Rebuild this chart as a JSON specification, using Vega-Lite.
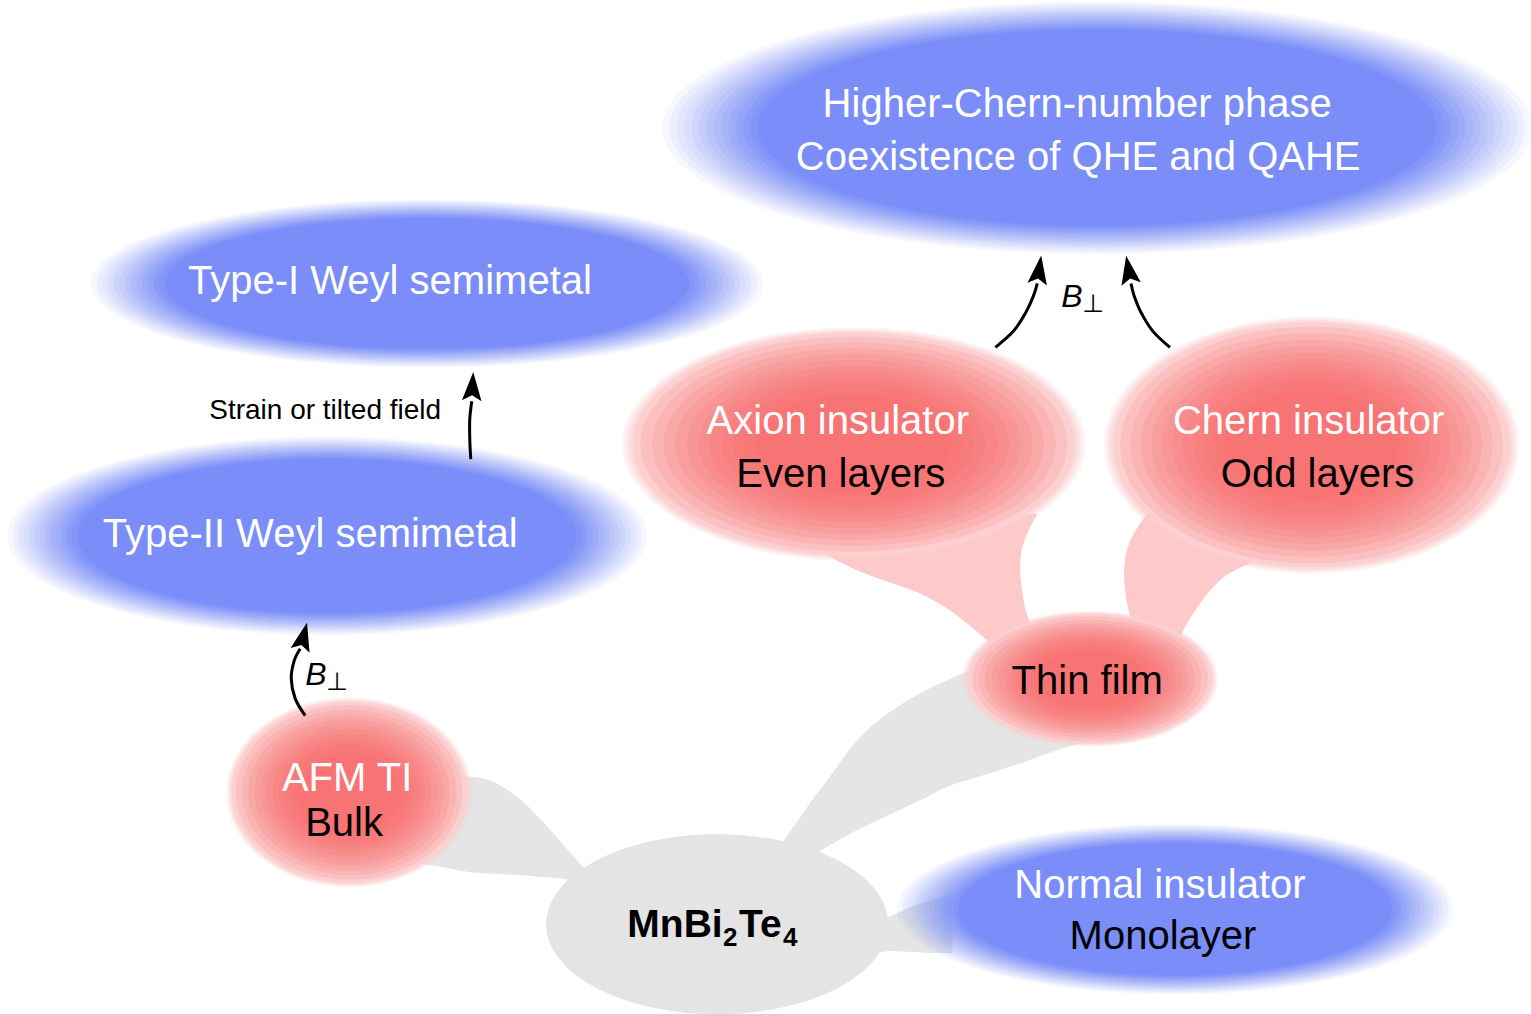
{
  "$schema": "https://vega.github.io/schema/vega-lite/v6.json",
  "width": 1531,
  "height": 1014,
  "padding": 0,
  "autosize": {"type": "fit", "contains": "padding"},
  "background": "white",
  "config": {"view": {"stroke": null}, "legend": {"disable": true}, "point": {"filled": true, "strokeWidth": 0}},
  "resolve": {"scale": {"size": "independent"}},
  "datasets": {
    "blueNodes": [
      {"node": "Higher-Chern", "cx": 1100, "cy": 128, "rx": 435},
      {"node": "Type-I", "cx": 428, "cy": 284, "rx": 336},
      {"node": "Type-II", "cx": 328, "cy": 537, "rx": 320},
      {"node": "Normal", "cx": 1178, "cy": 911, "rx": 278}
    ],
    "redNodes": [
      {"node": "Axion", "cx": 856, "cy": 445, "rx": 232},
      {"node": "Chern", "cx": 1315, "cy": 446, "rx": 208},
      {"node": "Thin film", "cx": 1093, "cy": 680, "rx": 128},
      {"node": "AFM TI", "cx": 350, "cy": 794, "rx": 123}
    ],
    "grayNodes": [
      {"node": "MnBi2Te4", "cx": 719, "cy": 926, "rx": 171}
    ],
    "grayLinks": [
      {"link": "A", "x": 425, "top": 795, "bottom": 866},
      {"link": "A", "x": 445, "top": 784, "bottom": 869},
      {"link": "A", "x": 465, "top": 778, "bottom": 873},
      {"link": "A", "x": 485, "top": 780, "bottom": 875},
      {"link": "A", "x": 505, "top": 789, "bottom": 876},
      {"link": "A", "x": 525, "top": 804, "bottom": 877},
      {"link": "A", "x": 545, "top": 824, "bottom": 879},
      {"link": "A", "x": 560, "top": 841, "bottom": 880},
      {"link": "A", "x": 575, "top": 858, "bottom": 882},
      {"link": "A", "x": 595, "top": 880, "bottom": 886},
      {"link": "B", "x": 780, "top": 852, "bottom": 853},
      {"link": "B", "x": 790, "top": 836, "bottom": 856},
      {"link": "B", "x": 800, "top": 822, "bottom": 857},
      {"link": "B", "x": 811, "top": 806, "bottom": 858},
      {"link": "B", "x": 830, "top": 781, "bottom": 848},
      {"link": "B", "x": 861, "top": 740, "bottom": 831},
      {"link": "B", "x": 890, "top": 715, "bottom": 817},
      {"link": "B", "x": 920, "top": 696, "bottom": 803},
      {"link": "B", "x": 953, "top": 680, "bottom": 787},
      {"link": "B", "x": 985, "top": 667, "bottom": 777},
      {"link": "B", "x": 1020, "top": 660, "bottom": 766},
      {"link": "B", "x": 1050, "top": 660, "bottom": 755},
      {"link": "B", "x": 1091, "top": 670, "bottom": 743},
      {"link": "B", "x": 1100, "top": 680, "bottom": 741},
      {"link": "C", "x": 878, "top": 925, "bottom": 955},
      {"link": "C", "x": 895, "top": 917, "bottom": 953},
      {"link": "C", "x": 915, "top": 908, "bottom": 954},
      {"link": "C", "x": 935, "top": 901, "bottom": 955},
      {"link": "C", "x": 955, "top": 896, "bottom": 955}
    ],
    "pinkLinks": [
      {"link": "D", "y": 515, "left": 790, "right": 1040},
      {"link": "D", "y": 530, "left": 800, "right": 1032},
      {"link": "D", "y": 545, "left": 815, "right": 1026},
      {"link": "D", "y": 562, "left": 840, "right": 1023},
      {"link": "D", "y": 575, "left": 868, "right": 1023},
      {"link": "D", "y": 593, "left": 918, "right": 1025},
      {"link": "D", "y": 610, "left": 950, "right": 1028},
      {"link": "D", "y": 625, "left": 970, "right": 1033},
      {"link": "D", "y": 640, "left": 988, "right": 1040},
      {"link": "D", "y": 655, "left": 1005, "right": 1050},
      {"link": "E", "y": 515, "left": 1150, "right": 1320},
      {"link": "E", "y": 540, "left": 1134, "right": 1300},
      {"link": "E", "y": 560, "left": 1128, "right": 1262},
      {"link": "E", "y": 575, "left": 1127, "right": 1232},
      {"link": "E", "y": 590, "left": 1128, "right": 1215},
      {"link": "E", "y": 605, "left": 1130, "right": 1203},
      {"link": "E", "y": 620, "left": 1134, "right": 1193},
      {"link": "E", "y": 635, "left": 1140, "right": 1185},
      {"link": "E", "y": 650, "left": 1150, "right": 1180}
    ],
    "arrows": [
      {"arrow": "afm", "ord": 0, "x": 306, "y": 717},
      {"arrow": "afm", "ord": 1, "x": 296, "y": 700},
      {"arrow": "afm", "ord": 2, "x": 292, "y": 680},
      {"arrow": "afm", "ord": 3, "x": 295, "y": 662},
      {"arrow": "afm", "ord": 4, "x": 301, "y": 650},
      {"arrow": "strain", "ord": 0, "x": 472, "y": 460},
      {"arrow": "strain", "ord": 1, "x": 471, "y": 440},
      {"arrow": "strain", "ord": 2, "x": 471, "y": 420},
      {"arrow": "strain", "ord": 3, "x": 473, "y": 402},
      {"arrow": "axion", "ord": 0, "x": 998, "y": 348},
      {"arrow": "axion", "ord": 1, "x": 1016, "y": 332},
      {"arrow": "axion", "ord": 2, "x": 1028, "y": 314},
      {"arrow": "axion", "ord": 3, "x": 1036, "y": 297},
      {"arrow": "axion", "ord": 4, "x": 1040, "y": 284},
      {"arrow": "chern", "ord": 0, "x": 1173, "y": 348},
      {"arrow": "chern", "ord": 1, "x": 1156, "y": 332},
      {"arrow": "chern", "ord": 2, "x": 1144, "y": 313},
      {"arrow": "chern", "ord": 3, "x": 1137, "y": 296},
      {"arrow": "chern", "ord": 4, "x": 1134, "y": 284}
    ],
    "heads": [
      {"arrow": "afm", "x": 301, "y": 651, "angle": 14},
      {"arrow": "strain", "x": 473, "y": 401, "angle": 3},
      {"arrow": "axion", "x": 1040, "y": 284, "angle": 8},
      {"arrow": "chern", "x": 1134, "y": 284, "angle": 350}
    ],
    "labels": [
      {"text": "Higher-Chern-number phase", "kind": "phase", "x": 1080, "y": 105},
      {"text": "Coexistence of QHE and QAHE", "kind": "phase", "x": 1081, "y": 158},
      {"text": "Type-I Weyl semimetal", "kind": "phase", "x": 391, "y": 283},
      {"text": "Type-II Weyl semimetal", "kind": "phase", "x": 311, "y": 536},
      {"text": "Axion insulator", "kind": "phase", "x": 840, "y": 423},
      {"text": "Chern insulator", "kind": "phase", "x": 1312, "y": 423},
      {"text": "AFM TI", "kind": "phase", "x": 348, "y": 781},
      {"text": "Normal insulator", "kind": "phase", "x": 1163, "y": 888},
      {"text": "Even layers", "kind": "sample", "x": 843, "y": 476},
      {"text": "Odd layers", "kind": "sample", "x": 1321, "y": 476},
      {"text": "Thin film", "kind": "sample", "x": 1090, "y": 683},
      {"text": "Bulk", "kind": "sample", "x": 345, "y": 826},
      {"text": "Monolayer", "kind": "sample", "x": 1166, "y": 939}
    ],
    "formulaMain": [
      {"text": "MnBi", "x": 629, "y": 927},
      {"text": "Te", "x": 741, "y": 927}
    ],
    "formulaSub": [
      {"text": "2", "x": 725, "y": 940},
      {"text": "4", "x": 785, "y": 940}
    ],
    "fieldB": [
      {"text": "B", "x": 1064, "y": 298},
      {"text": "B", "x": 306, "y": 676}
    ],
    "fieldPerp": [
      {"text": "⊥", "x": 1085, "y": 305},
      {"text": "⊥", "x": 327, "y": 683}
    ],
    "notes": [
      {"text": "Strain or tilted field", "x": 326, "y": 412}
    ]
  },
  "layer": [
    {
      "data": {"name": "grayLinks"},
      "mark": {"type": "area", "color": "#e5e5e5", "interpolate": "monotone", "opacity": 1},
      "encoding": {
        "x": {"field": "x", "type": "quantitative", "scale": {"domain": [0, 1531], "nice": false, "zero": false}, "axis": null},
        "y": {"field": "top", "type": "quantitative", "scale": {"domain": [0, 1014], "nice": false, "zero": false, "reverse": true}, "axis": null},
        "y2": {"field": "bottom"},
        "detail": {"field": "link"}
      }
    },
    {
      "data": {"name": "pinkLinks"},
      "mark": {"type": "area", "color": "#fdc9c9", "interpolate": "monotone", "orient": "horizontal", "opacity": 1},
      "encoding": {
        "y": {"field": "y", "type": "quantitative", "scale": {"domain": [0, 1014], "nice": false, "zero": false, "reverse": true}, "axis": null},
        "x": {"field": "left", "type": "quantitative", "scale": {"domain": [0, 1531], "nice": false, "zero": false}, "axis": null},
        "x2": {"field": "right"},
        "detail": {"field": "link"}
      }
    },
    {
      "data": {"name": "blueNodes"},
      "resolve": {"scale": {"size": "independent"}},
      "layer": [
        {"mark": {"type": "point", "color": "#7a8df8", "opacity": 0.0714}, "encoding": {"size": {"field": "rx", "type": "quantitative", "scale": {"type": "pow", "exponent": 2, "domain": [0, 500], "range": [0, 1000000]}}}},
        {"mark": {"type": "point", "color": "#7a8df8", "opacity": 0.0769}, "encoding": {"size": {"field": "rx", "type": "quantitative", "scale": {"type": "pow", "exponent": 2, "domain": [0, 500], "range": [0, 966486]}}}},
        {"mark": {"type": "point", "color": "#7a8df8", "opacity": 0.0833}, "encoding": {"size": {"field": "rx", "type": "quantitative", "scale": {"type": "pow", "exponent": 2, "domain": [0, 500], "range": [0, 933542]}}}},
        {"mark": {"type": "point", "color": "#7a8df8", "opacity": 0.0909}, "encoding": {"size": {"field": "rx", "type": "quantitative", "scale": {"type": "pow", "exponent": 2, "domain": [0, 500], "range": [0, 901001]}}}},
        {"mark": {"type": "point", "color": "#7a8df8", "opacity": 0.1}, "encoding": {"size": {"field": "rx", "type": "quantitative", "scale": {"type": "pow", "exponent": 2, "domain": [0, 500], "range": [0, 869183]}}}},
        {"mark": {"type": "point", "color": "#7a8df8", "opacity": 0.1111}, "encoding": {"size": {"field": "rx", "type": "quantitative", "scale": {"type": "pow", "exponent": 2, "domain": [0, 500], "range": [0, 837957]}}}},
        {"mark": {"type": "point", "color": "#7a8df8", "opacity": 0.125}, "encoding": {"size": {"field": "rx", "type": "quantitative", "scale": {"type": "pow", "exponent": 2, "domain": [0, 500], "range": [0, 807302]}}}},
        {"mark": {"type": "point", "color": "#7a8df8", "opacity": 0.1429}, "encoding": {"size": {"field": "rx", "type": "quantitative", "scale": {"type": "pow", "exponent": 2, "domain": [0, 500], "range": [0, 777042]}}}},
        {"mark": {"type": "point", "color": "#7a8df8", "opacity": 0.1667}, "encoding": {"size": {"field": "rx", "type": "quantitative", "scale": {"type": "pow", "exponent": 2, "domain": [0, 500], "range": [0, 747533]}}}},
        {"mark": {"type": "point", "color": "#7a8df8", "opacity": 0.2}, "encoding": {"size": {"field": "rx", "type": "quantitative", "scale": {"type": "pow", "exponent": 2, "domain": [0, 500], "range": [0, 718595]}}}},
        {"mark": {"type": "point", "color": "#7a8df8", "opacity": 0.25}, "encoding": {"size": {"field": "rx", "type": "quantitative", "scale": {"type": "pow", "exponent": 2, "domain": [0, 500], "range": [0, 690229]}}}},
        {"mark": {"type": "point", "color": "#7a8df8", "opacity": 0.3333}, "encoding": {"size": {"field": "rx", "type": "quantitative", "scale": {"type": "pow", "exponent": 2, "domain": [0, 500], "range": [0, 662270]}}}},
        {"mark": {"type": "point", "color": "#7a8df8", "opacity": 0.5}, "encoding": {"size": {"field": "rx", "type": "quantitative", "scale": {"type": "pow", "exponent": 2, "domain": [0, 500], "range": [0, 635050]}}}},
        {"mark": {"type": "point", "color": "#7a8df8", "opacity": 1}, "encoding": {"size": {"field": "rx", "type": "quantitative", "scale": {"type": "pow", "exponent": 2, "domain": [0, 500], "range": [0, 608400]}}}}
      ],
      "encoding": {
        "x": {"field": "cx", "type": "quantitative", "scale": {"domain": [0, 1531], "nice": false, "zero": false}, "axis": null},
        "y": {"field": "cy", "type": "quantitative", "scale": {"domain": [0, 1014], "nice": false, "zero": false, "reverse": true}, "axis": null},
        "shape": {"field": "node", "type": "nominal", "legend": null, "scale": {
          "domain": ["Higher-Chern", "Type-I", "Type-II", "Normal", "Axion", "Chern", "Thin film", "AFM TI", "MnBi2Te4"],
          "range": [
            "M-1,0C-1,-0.1602 -0.5523,-0.29 0,-0.29C0.5523,-0.29 1,-0.1602 1,0C1,0.1602 0.5523,0.29 0,0.29C-0.5523,0.29 -1,0.1602 -1,0Z",
            "M-1,0C-1,-0.1381 -0.5523,-0.25 0,-0.25C0.5523,-0.25 1,-0.1381 1,0C1,0.1381 0.5523,0.25 0,0.25C-0.5523,0.25 -1,0.1381 -1,0Z",
            "M-1,0C-1,-0.1712 -0.5523,-0.31 0,-0.31C0.5523,-0.31 1,-0.1712 1,0C1,0.1712 0.5523,0.31 0,0.31C-0.5523,0.31 -1,0.1712 -1,0Z",
            "M-1,0C-1,-0.169 -0.5523,-0.306 0,-0.306C0.5523,-0.306 1,-0.169 1,0C1,0.169 0.5523,0.306 0,0.306C-0.5523,0.306 -1,0.169 -1,0Z",
            "M-1,0C-1,-0.2784 -0.5523,-0.504 0,-0.504C0.5523,-0.504 1,-0.2784 1,0C1,0.2784 0.5523,0.504 0,0.504C-0.5523,0.504 -1,0.2784 -1,0Z",
            "M-1,0C-1,-0.3413 -0.5523,-0.618 0,-0.618C0.5523,-0.618 1,-0.3413 1,0C1,0.3413 0.5523,0.618 0,0.618C-0.5523,0.618 -1,0.3413 -1,0Z",
            "M-1,0C-1,-0.2927 -0.5523,-0.53 0,-0.53C0.5523,-0.53 1,-0.2927 1,0C1,0.2927 0.5523,0.53 0,0.53C-0.5523,0.53 -1,0.2927 -1,0Z",
            "M-1,0C-1,-0.4264 -0.5523,-0.772 0,-0.772C0.5523,-0.772 1,-0.4264 1,0C1,0.4264 0.5523,0.772 0,0.772C-0.5523,0.772 -1,0.4264 -1,0Z",
            "M-1,0C-1,-0.2905 -0.5523,-0.526 0,-0.526C0.5523,-0.526 1,-0.2905 1,0C1,0.2905 0.5523,0.526 0,0.526C-0.5523,0.526 -1,0.2905 -1,0Z"
          ]}}
      }
    },
    {
      "data": {"name": "redNodes"},
      "resolve": {"scale": {"size": "independent"}},
      "layer": [
        {"mark": {"type": "point", "color": "#fcd0d0", "opacity": 0.2}, "encoding": {"size": {"field": "rx", "type": "quantitative", "scale": {"type": "pow", "exponent": 2, "domain": [0, 500], "range": [0, 1000000]}}}},
        {"mark": {"type": "point", "color": "#fcd0d0", "opacity": 0.25}, "encoding": {"size": {"field": "rx", "type": "quantitative", "scale": {"type": "pow", "exponent": 2, "domain": [0, 500], "range": [0, 976144]}}}},
        {"mark": {"type": "point", "color": "#fcd0d0", "opacity": 0.3333}, "encoding": {"size": {"field": "rx", "type": "quantitative", "scale": {"type": "pow", "exponent": 2, "domain": [0, 500], "range": [0, 952576]}}}},
        {"mark": {"type": "point", "color": "#fcd0d0", "opacity": 0.5}, "encoding": {"size": {"field": "rx", "type": "quantitative", "scale": {"type": "pow", "exponent": 2, "domain": [0, 500], "range": [0, 929296]}}}},
        {"mark": {"type": "point", "color": "#fcd0d0", "opacity": 1}, "encoding": {"size": {"field": "rx", "type": "quantitative", "scale": {"type": "pow", "exponent": 2, "domain": [0, 500], "range": [0, 906304]}}}},
        {"mark": {"type": "point", "color": "#f65f5f", "opacity": 0.13}, "encoding": {"size": {"field": "rx", "type": "quantitative", "scale": {"type": "pow", "exponent": 2, "domain": [0, 500], "range": [0, 846400]}}}},
        {"mark": {"type": "point", "color": "#f65f5f", "opacity": 0.13}, "encoding": {"size": {"field": "rx", "type": "quantitative", "scale": {"type": "pow", "exponent": 2, "domain": [0, 500], "range": [0, 756900]}}}},
        {"mark": {"type": "point", "color": "#f65f5f", "opacity": 0.13}, "encoding": {"size": {"field": "rx", "type": "quantitative", "scale": {"type": "pow", "exponent": 2, "domain": [0, 500], "range": [0, 672400]}}}},
        {"mark": {"type": "point", "color": "#f65f5f", "opacity": 0.13}, "encoding": {"size": {"field": "rx", "type": "quantitative", "scale": {"type": "pow", "exponent": 2, "domain": [0, 500], "range": [0, 592900]}}}},
        {"mark": {"type": "point", "color": "#f65f5f", "opacity": 0.13}, "encoding": {"size": {"field": "rx", "type": "quantitative", "scale": {"type": "pow", "exponent": 2, "domain": [0, 500], "range": [0, 518400]}}}},
        {"mark": {"type": "point", "color": "#f65f5f", "opacity": 0.13}, "encoding": {"size": {"field": "rx", "type": "quantitative", "scale": {"type": "pow", "exponent": 2, "domain": [0, 500], "range": [0, 448900]}}}},
        {"mark": {"type": "point", "color": "#f65f5f", "opacity": 0.13}, "encoding": {"size": {"field": "rx", "type": "quantitative", "scale": {"type": "pow", "exponent": 2, "domain": [0, 500], "range": [0, 384400]}}}},
        {"mark": {"type": "point", "color": "#f65f5f", "opacity": 0.13}, "encoding": {"size": {"field": "rx", "type": "quantitative", "scale": {"type": "pow", "exponent": 2, "domain": [0, 500], "range": [0, 324900]}}}},
        {"mark": {"type": "point", "color": "#f65f5f", "opacity": 0.13}, "encoding": {"size": {"field": "rx", "type": "quantitative", "scale": {"type": "pow", "exponent": 2, "domain": [0, 500], "range": [0, 270400]}}}},
        {"mark": {"type": "point", "color": "#f65f5f", "opacity": 0.13}, "encoding": {"size": {"field": "rx", "type": "quantitative", "scale": {"type": "pow", "exponent": 2, "domain": [0, 500], "range": [0, 220900]}}}},
        {"mark": {"type": "point", "color": "#f65f5f", "opacity": 0.13}, "encoding": {"size": {"field": "rx", "type": "quantitative", "scale": {"type": "pow", "exponent": 2, "domain": [0, 500], "range": [0, 176400]}}}}
      ],
      "encoding": {
        "x": {"field": "cx", "type": "quantitative", "scale": {"domain": [0, 1531], "nice": false, "zero": false}, "axis": null},
        "y": {"field": "cy", "type": "quantitative", "scale": {"domain": [0, 1014], "nice": false, "zero": false, "reverse": true}, "axis": null},
        "shape": {"field": "node", "type": "nominal", "legend": null}
      }
    },
    {
      "data": {"name": "grayNodes"},
      "mark": {"type": "point", "color": "#e4e4e4", "opacity": 1},
      "encoding": {
        "x": {"field": "cx", "type": "quantitative", "scale": {"domain": [0, 1531], "nice": false, "zero": false}, "axis": null},
        "y": {"field": "cy", "type": "quantitative", "scale": {"domain": [0, 1014], "nice": false, "zero": false, "reverse": true}, "axis": null},
        "shape": {"field": "node", "type": "nominal", "legend": null},
        "size": {"field": "rx", "type": "quantitative", "scale": {"type": "pow", "exponent": 2, "domain": [0, 500], "range": [0, 1000000]}}
      }
    },
    {
      "data": {"name": "arrows"},
      "mark": {"type": "line", "color": "black", "strokeWidth": 3, "interpolate": "cardinal", "strokeCap": "butt"},
      "encoding": {
        "x": {"field": "x", "type": "quantitative", "scale": {"domain": [0, 1531], "nice": false, "zero": false}, "axis": null},
        "y": {"field": "y", "type": "quantitative", "scale": {"domain": [0, 1014], "nice": false, "zero": false, "reverse": true}, "axis": null},
        "detail": {"field": "arrow"},
        "order": {"field": "ord", "type": "quantitative"}
      }
    },
    {
      "data": {"name": "heads"},
      "mark": {"type": "point", "shape": "M0,-2.3L0.8,0.05L0,-0.4L-0.8,0.05Z", "color": "black", "opacity": 1, "size": 600},
      "encoding": {
        "x": {"field": "x", "type": "quantitative", "scale": {"domain": [0, 1531], "nice": false, "zero": false}, "axis": null},
        "y": {"field": "y", "type": "quantitative", "scale": {"domain": [0, 1014], "nice": false, "zero": false, "reverse": true}, "axis": null},
        "angle": {"field": "angle", "type": "quantitative", "scale": null}
      }
    },
    {
      "data": {"name": "labels"},
      "mark": {"type": "text", "font": "Liberation Sans", "fontSize": 40, "align": "center", "baseline": "middle"},
      "encoding": {
        "x": {"field": "x", "type": "quantitative", "scale": {"domain": [0, 1531], "nice": false, "zero": false}, "axis": null},
        "y": {"field": "y", "type": "quantitative", "scale": {"domain": [0, 1014], "nice": false, "zero": false, "reverse": true}, "axis": null},
        "text": {"field": "text"},
        "color": {"field": "kind", "type": "nominal", "scale": {"domain": ["phase", "sample"], "range": ["#ffffff", "#000000"]}, "legend": null}
      }
    },
    {
      "data": {"name": "formulaMain"},
      "mark": {"type": "text", "font": "Liberation Sans", "fontSize": 39, "fontWeight": "bold", "align": "left", "baseline": "middle", "color": "black"},
      "encoding": {
        "x": {"field": "x", "type": "quantitative", "scale": {"domain": [0, 1531], "nice": false, "zero": false}, "axis": null},
        "y": {"field": "y", "type": "quantitative", "scale": {"domain": [0, 1014], "nice": false, "zero": false, "reverse": true}, "axis": null},
        "text": {"field": "text"}
      }
    },
    {
      "data": {"name": "formulaSub"},
      "mark": {"type": "text", "font": "Liberation Sans", "fontSize": 26, "fontWeight": "bold", "align": "left", "baseline": "middle", "color": "black"},
      "encoding": {
        "x": {"field": "x", "type": "quantitative", "scale": {"domain": [0, 1531], "nice": false, "zero": false}, "axis": null},
        "y": {"field": "y", "type": "quantitative", "scale": {"domain": [0, 1014], "nice": false, "zero": false, "reverse": true}, "axis": null},
        "text": {"field": "text"}
      }
    },
    {
      "data": {"name": "fieldB"},
      "mark": {"type": "text", "font": "Liberation Sans", "fontSize": 32, "fontStyle": "italic", "align": "left", "baseline": "middle", "color": "black"},
      "encoding": {
        "x": {"field": "x", "type": "quantitative", "scale": {"domain": [0, 1531], "nice": false, "zero": false}, "axis": null},
        "y": {"field": "y", "type": "quantitative", "scale": {"domain": [0, 1014], "nice": false, "zero": false, "reverse": true}, "axis": null},
        "text": {"field": "text"}
      }
    },
    {
      "data": {"name": "fieldPerp"},
      "mark": {"type": "text", "font": "DejaVu Sans", "fontSize": 25, "align": "left", "baseline": "middle", "color": "black"},
      "encoding": {
        "x": {"field": "x", "type": "quantitative", "scale": {"domain": [0, 1531], "nice": false, "zero": false}, "axis": null},
        "y": {"field": "y", "type": "quantitative", "scale": {"domain": [0, 1014], "nice": false, "zero": false, "reverse": true}, "axis": null},
        "text": {"field": "text"}
      }
    },
    {
      "data": {"name": "notes"},
      "mark": {"type": "text", "font": "Liberation Sans", "fontSize": 28, "align": "center", "baseline": "middle", "color": "black"},
      "encoding": {
        "x": {"field": "x", "type": "quantitative", "scale": {"domain": [0, 1531], "nice": false, "zero": false}, "axis": null},
        "y": {"field": "y", "type": "quantitative", "scale": {"domain": [0, 1014], "nice": false, "zero": false, "reverse": true}, "axis": null},
        "text": {"field": "text"}
      }
    }
  ]
}
